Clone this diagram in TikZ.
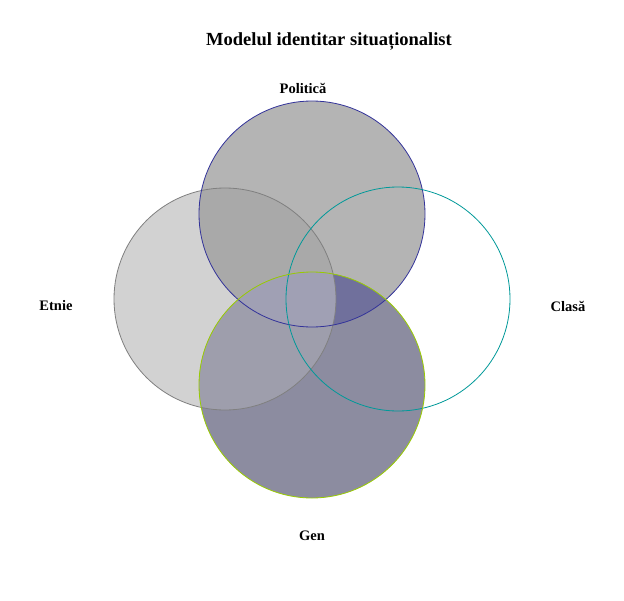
\documentclass[tikz,border=0pt]{standalone}
\usepackage{fontspec}
\setmainfont{Liberation Serif}
\begin{document}
\begin{tikzpicture}[x=1pt,y=-1pt,
  lbl/.style={font=\bfseries\fontsize{14.5}{16}\selectfont, inner sep=0pt},
  ttl/.style={font=\bfseries\fontsize{18.5}{20}\selectfont, inner sep=0pt}]
\definecolor{cEt}{HTML}{D2D2D2}
\definecolor{cPo}{HTML}{B4B4B4}
\definecolor{cGe}{HTML}{8C8CA0}
\definecolor{cEP}{HTML}{A9A9A9}
\definecolor{cEG}{HTML}{9E9EAC}
\definecolor{cPG}{HTML}{70709C}
\definecolor{cC}{HTML}{A0A0B4}
\definecolor{lPo}{HTML}{33339A}
\definecolor{lEt}{HTML}{808080}
\definecolor{lCl}{HTML}{009999}
\definecolor{lGe}{HTML}{99CC00}
\useasboundingbox (0,0) rectangle (624,600);
\fill[white] (0,0) rectangle (624,600);
\def\Po{(312,214) circle (113)}
\def\Et{(225,299) circle (111)}
\def\Cl{(398,299) circle (112)}
\def\Ge{(312,385) circle (113)}
% base fills
\fill[cEt] \Et;
\fill[cPo] \Po;
\fill[cGe] \Ge;
\begin{scope}\clip \Et; \fill[cEP] \Po; \end{scope}
\begin{scope}\clip \Et; \fill[cEG] \Ge; \end{scope}
\begin{scope}\clip \Po; \fill[cPG] \Ge; \end{scope}
\begin{scope}\clip \Po; \clip \Et; \fill[cC] \Ge; \end{scope}
% outlines
\draw[lEt, line width=0.8pt] \Et;
\draw[lPo, line width=0.8pt] \Po;
\draw[lCl, line width=0.8pt] \Cl;
\draw[lGe, line width=0.8pt] \Ge;
% labels
\node[ttl] (title) at (329,41) {Modelul identitar situaționalist};
\node[lbl] (po) at (303,88) {Politică};
\node[lbl] (et) at (56,306) {Etnie};
\node[lbl] (cl) at (568,306) {Clasă};
\node[lbl] (ge) at (312,536) {Gen};
\end{tikzpicture}
\end{document}
